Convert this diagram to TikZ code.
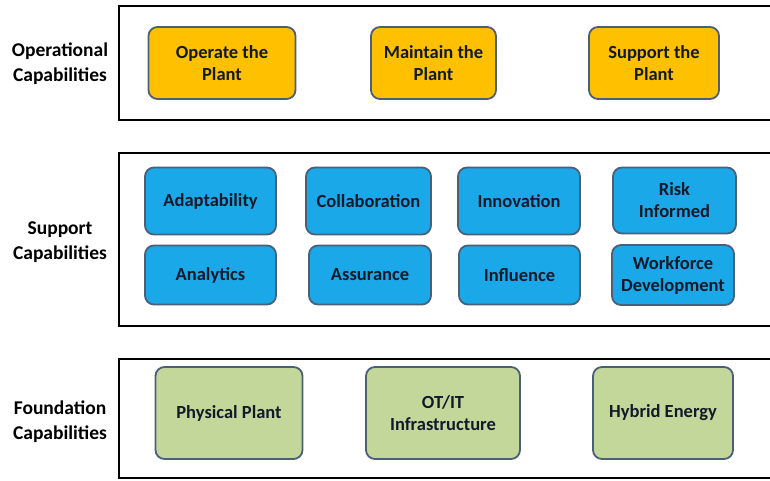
\documentclass[tikz,border=0pt]{standalone}
\usepackage{fontspec}
\setmainfont{Carlito}
\definecolor{orangefill}{HTML}{FFC000}
\definecolor{bluefill}{HTML}{1BA8E8}
\definecolor{greenfill}{HTML}{C4D79B}
\definecolor{boxedge}{HTML}{4A5F78}
\definecolor{boxtext}{HTML}{121A2A}
\begin{document}
\begin{tikzpicture}[x=1pt,y=-1pt,
  band/.style={draw=black,line width=2.6pt,fill=white},
  capbox/.style={draw=boxedge,line width=1.8pt,rounded corners=9pt,align=center,
    font=\fontsize{18.5}{22}\selectfont\bfseries,text=boxtext,inner sep=0pt},
  opbox/.style={capbox,fill=orangefill},
  supbox/.style={capbox,fill=bluefill},
  fndbox/.style={capbox,fill=greenfill},
  side/.style={align=center,font=\fontsize{19.5}{25}\selectfont\bfseries,text=black}]
\useasboundingbox (0,0) rectangle (770,480);
\fill[white] (0,0) rectangle (770,480);
\begin{scope}
\clip (0,0) rectangle (770,480);
% bands
\draw[band] (119,6) rectangle (790,120);
\draw[band] (119,153) rectangle (790,326);
\draw[band] (119,359) rectangle (790,478);
\end{scope}
% side labels
\node[side] (lop) at (60,64) {Operational\\Capabilities};
\node[side] (lsup) at (60,242) {Support\\Capabilities};
\node[side] (lfnd) at (60,422) {Foundation\\Capabilities};
% operational
\node[opbox,minimum width=147pt,minimum height=72pt] (operate) at (222,63) {Operate the\\Plant};
\node[opbox,minimum width=125pt,minimum height=72pt] (maintain) at (433.5,63) {Maintain the\\Plant};
\node[opbox,minimum width=130pt,minimum height=72pt] (support) at (654,63) {Support the\\Plant};
% support row 1
\node[supbox,minimum width=131pt,minimum height=67pt] (adapt) at (210.5,201) {Adaptability};
\node[supbox,minimum width=125pt,minimum height=67pt] (collab) at (368.5,201) {Collaboration};
\node[supbox,minimum width=122pt,minimum height=67pt] (innov) at (519,201) {Innovation};
\node[supbox,minimum width=123pt,minimum height=66pt] (risk) at (674.5,200.5) {Risk\\Informed};
% support row 2
\node[supbox,minimum width=131pt,minimum height=59pt] (analytics) at (210.5,275) {Analytics};
\node[supbox,minimum width=122pt,minimum height=59pt] (assure) at (370,275) {Assurance};
\node[supbox,minimum width=121pt,minimum height=59pt] (influ) at (519.5,275) {Influence};
\node[supbox,minimum width=122pt,minimum height=60pt] (workforce) at (673,275) {Workforce\\Development};
% foundation
\node[fndbox,minimum width=147pt,minimum height=92pt] (phys) at (229,413) {Physical Plant};
\node[fndbox,minimum width=154pt,minimum height=92pt] (otit) at (443,413) {OT/IT\\Infrastructure};
\node[fndbox,minimum width=140pt,minimum height=92pt] (hybrid) at (663,413) {Hybrid Energy};
\end{tikzpicture}
\end{document}
